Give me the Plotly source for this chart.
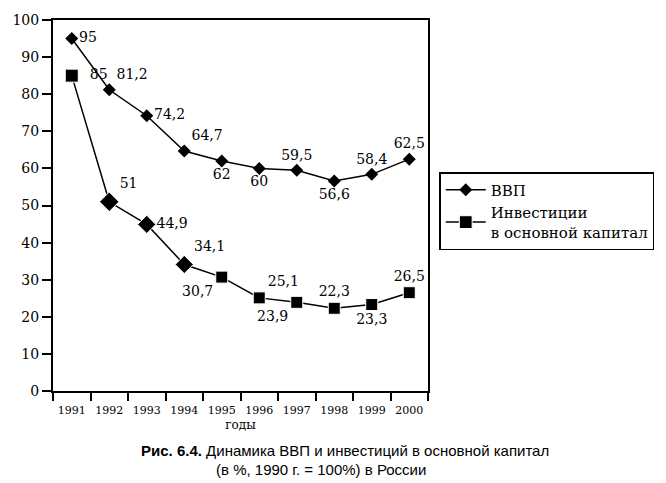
import plotly.graph_objects as go

years = ["1991", "1992", "1993", "1994", "1995", "1996", "1997", "1998", "1999", "2000"]
gdp = [95, 81.2, 74.2, 64.7, 62, 60, 59.5, 56.6, 58.4, 62.5]
invest = [85, 51, 44.9, 34.1, 30.7, 25.1, 23.9, 22.3, 23.3, 26.5]
yticks = [0, 10, 20, 30, 40, 50, 60, 70, 80, 90, 100]

def fmt(v):
    s = ("%g" % v)
    return s.replace(".", ",")

serif = "DejaVu Serif, Liberation Serif, serif"
label_font = dict(family=serif, size=14, color="black")

fig = go.Figure()
fig.add_trace(go.Scatter(
    x=years, y=gdp, name="ВВП",
    mode="lines+markers+text",
    line=dict(color="black", width=1.5),
    marker=dict(symbol="diamond", size=10, color="black", opacity=1),
    text=[fmt(v) for v in gdp],
    textposition=["middle right", "top right", "middle right", "top right", "bottom center",
                  "bottom center", "top center", "bottom center", "top center", "top center"],
    textfont=label_font,
))
fig.add_trace(go.Scatter(
    x=years, y=invest, name="Инвестиции<br>в основной капитал",
    mode="lines+markers+text",
    line=dict(color="black", width=1.5),
    marker=dict(symbol=["square", "diamond", "diamond", "diamond", "square",
                        "square", "square", "square", "square", "square"],
                size=[13, 15, 14, 14, 12, 12, 12, 12, 12, 12], color="black", opacity=1),
    text=["  " + fmt(invest[0])] + [fmt(v) for v in invest[1:]],
    textposition=["middle right", "top right", "middle right", "top right", "bottom left",
                  "top right", "bottom left", "top center", "bottom center", "top center"],
    textfont=label_font,
))

fig.update_layout(
    width=666, height=483,
    margin=dict(l=49, r=235, t=13, b=92),
    paper_bgcolor="white", plot_bgcolor="white",
    showlegend=True,
    legend=dict(
        x=1.03, y=0.59, xanchor="left", yanchor="top",
        bordercolor="black", borderwidth=1.5,
        font=dict(family=serif, size=15, color="black"),
        itemwidth=40, tracegroupgap=4,
    ),
    xaxis=dict(
        type="category", range=[-0.5, 9.5],
        tickson="boundaries", ticks="outside", ticklen=8, tickwidth=1.5, tickcolor="black",
        showline=True, linecolor="black", linewidth=2, mirror=True,
        showgrid=False, zeroline=False, tickangle=0, ticklabelstandoff=8,
        tickfont=dict(family=serif, size=11, color="black"),
        title=dict(text="годы", font=dict(family=serif, size=12, color="black"), standoff=4),
    ),
    yaxis=dict(
        range=[0, 100], tickvals=yticks,
        ticks="outside", ticklen=9, tickwidth=1.5, tickcolor="black",
        showline=True, linecolor="black", linewidth=2, mirror=True,
        showgrid=False, zeroline=False,
        tickfont=dict(family=serif, size=14, color="black"),
    ),
)

fig.add_annotation(
    text="<b>Рис. 6.4.</b> Динамика ВВП и инвестиций в основной капитал",
    xref="paper", yref="paper", x=(346 - 49) / 382, y=-0.161, xanchor="center", yanchor="middle",
    showarrow=False, font=dict(family="Liberation Sans", size=15, color="black"),
)
fig.add_annotation(
    text="(в %, 1990 г. = 100%) в России",
    xref="paper", yref="paper", x=(322 - 49) / 382, y=-0.212, xanchor="center", yanchor="middle",
    showarrow=False, font=dict(family="Liberation Sans", size=15, color="black"),
)

fig.write_html("out.html")
